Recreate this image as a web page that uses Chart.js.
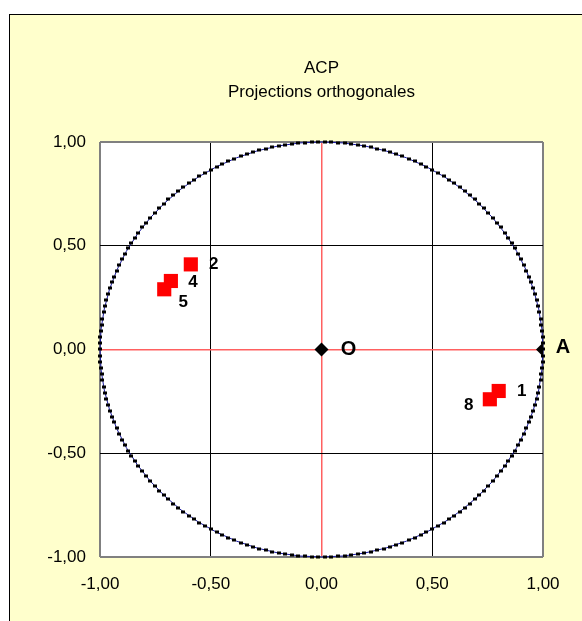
<!DOCTYPE html>
<html>
<head>
<meta charset="utf-8">
<script src="https://cdn.jsdelivr.net/npm/chart.js@4.4.1/dist/chart.umd.min.js"></script>
<style>
html, body { margin:0; padding:0; background:#fff; }
canvas { display:block; }
</style>
</head>
<body>
<canvas id="acp" width="582" height="621"></canvas>
<script>
// ---- data ----
const pointNames = ['1', '2', '4', '5', '8'];
const axis1      = [0.80, -0.59, -0.68, -0.71, 0.76];
const axis2      = [-0.20, 0.41, 0.33, 0.29, -0.24];

const refNames = ['O', 'A'];
const refX     = [0, 1];
const refY     = [0, 0];

const tickValues    = [-1, -0.5, 0, 0.5, 1];
const circleRadius  = 1;
const circleMarkers = 210;

// label placement (pixels from the marker centre)
const labelOffset = {
    '1': [23, 0], '2': [23, 0], '4': [22, 1], '5': [19, 13], '8': [-21, 6],
    'O': [27, 0], 'A': [20, -2]
};

const FONT = '"Liberation Sans", Arial, sans-serif';
const fmt  = v => v.toFixed(2).replace('.', ',');

// yellow chart box + white plot area
const boxPlugin = {
    id: 'box',
    beforeDraw(chart) {
        const { ctx, width, height, chartArea: a } = chart;
        ctx.save();
        ctx.fillStyle = '#ffffff';
        ctx.fillRect(0, 0, width, height);
        ctx.fillStyle = '#FFFFCC';
        ctx.fillRect(9, 14, width, height);
        ctx.strokeStyle = '#000';
        ctx.lineWidth = 1;
        ctx.strokeRect(9.5, 14.5, width + 10, height + 10);
        ctx.fillStyle = '#ffffff';
        ctx.fillRect(a.left, a.top, a.right - a.left, a.bottom - a.top);
        ctx.restore();
    }
};

// unit circle, through the scales
const circlePlugin = {
    id: 'circle',
    beforeDatasetsDraw(chart) {
        const { ctx } = chart;
        const xs = chart.scales.x, ys = chart.scales.y;
        const cx = xs.getPixelForValue(0), cy = ys.getPixelForValue(0);
        const rx = xs.getPixelForValue(circleRadius) - cx;
        const ry = cy - ys.getPixelForValue(circleRadius);
        ctx.save();
        ctx.beginPath();
        ctx.ellipse(cx, cy, rx, ry, 0, 0, 2 * Math.PI);
        ctx.strokeStyle = '#1a1aa0';
        ctx.lineWidth = 1;
        ctx.stroke();
        ctx.fillStyle = '#000';
        for (let i = 0; i < circleMarkers; i++) {
            const a = 2 * Math.PI * i / circleMarkers;
            const px = Math.round(cx + rx * Math.cos(a));
            const py = Math.round(cy - ry * Math.sin(a));
            ctx.fillRect(px - 2, py - 1.5, 4, 3);
        }
        ctx.restore();
    }
};

// point names
const labelPlugin = {
    id: 'names',
    afterDatasetsDraw(chart) {
        const { ctx } = chart;
        ctx.save();
        ctx.fillStyle = '#000';
        ctx.textAlign = 'center';
        ctx.textBaseline = 'middle';
        chart.data.datasets.forEach((ds, di) => {
            const meta = chart.getDatasetMeta(di);
            ctx.font = 'bold ' + ds.labelSize + 'px ' + FONT;
            meta.data.forEach((el, i) => {
                const name = ds.names[i];
                const off = labelOffset[name] || [15, 0];
                ctx.fillText(name, el.x + off[0], el.y + off[1]);
            });
        });
        ctx.restore();
    }
};

const gridColor = c => {
    const v = c.tick.value;
    if (v === 0) return '#FF6060';
    if (Math.abs(v) === 1) return '#808080';
    return '#000000';
};
const gridWidth = c => Math.abs(c.tick.value) === 1 ? 2 : (c.tick.value === 0 ? 1.5 : 1);

function axis(extra) {
    return Object.assign({
        type: 'linear',
        min: -1,
        max: 1,
        afterBuildTicks: s => { s.ticks = tickValues.map(v => ({ value: v })); },
        grid: { color: gridColor, lineWidth: gridWidth, drawTicks: false },
        border: { display: false },
        ticks: {
            color: '#000',
            font: { family: FONT, size: 17 },
            callback: v => fmt(v)
        }
    }, extra);
}

const xAxis = axis({ position: 'bottom', afterFit: s => { s.height = 64; } });
xAxis.ticks.padding = 17;
const yAxis = axis({ position: 'left', afterFit: s => { s.width = 82; } });
yAxis.ticks.padding = 14;

// empty right-hand strip so the plot stops where the reference's does
const spacer = {
    type: 'linear',
    position: 'right',
    min: -1,
    max: 1,
    grid: { display: false },
    border: { display: false },
    ticks: { display: false },
    afterFit: s => { s.width = 39; }
};

new Chart(document.getElementById('acp'), {
    type: 'scatter',
    data: {
        datasets: [
            {
                names: refNames,
                labelSize: 20,
                data: refX.map((x, i) => ({ x: x, y: refY[i] })),
                pointStyle: 'rectRot',
                pointRadius: 7,
                backgroundColor: '#000',
                borderColor: '#000',
                borderWidth: 0
            },
            {
                names: pointNames,
                labelSize: 17,
                data: axis1.map((x, i) => ({ x: x, y: axis2[i] })),
                pointStyle: 'rect',
                pointRadius: 10,
                backgroundColor: '#FF0000',
                borderColor: '#FF0000',
                borderWidth: 0
            }
        ]
    },
    options: {
        responsive: false,
        animation: false,
        events: [],
        layout: { padding: { left: 18, right: 0, top: 0, bottom: 0 } },
        plugins: {
            legend: { display: false },
            tooltip: { enabled: false },
            title: {
                display: true,
                fullSize: false,
                text: ['ACP', 'Projections orthogonales'],
                color: '#000',
                font: { family: FONT, size: 17, weight: 'normal', lineHeight: 1.41 },
                padding: { top: 56, bottom: 38 }
            }
        },
        scales: { x: xAxis, y: yAxis, y2: spacer }
    },
    plugins: [boxPlugin, circlePlugin, labelPlugin]
});
</script>
</body>
</html>
